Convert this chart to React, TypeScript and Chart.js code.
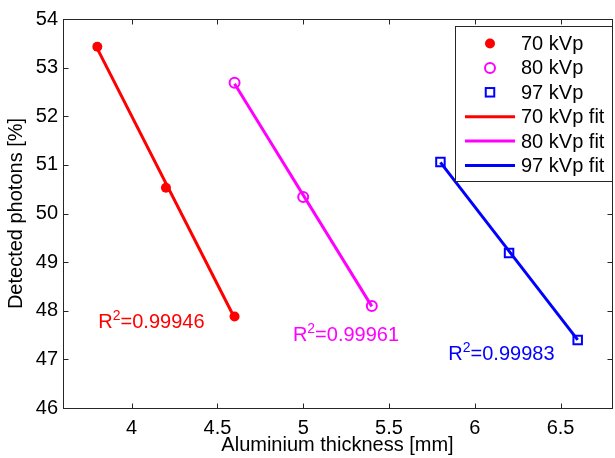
import React, { useEffect, useRef } from "react";
import { Chart, registerables } from "chart.js";

Chart.register(...registerables);

// ---- data ----
const X_70 = [3.8, 4.2, 4.6];
const Y_70 = [53.43, 50.53, 47.88];
const X_80 = [4.6, 5.0, 5.4];
const Y_80 = [52.69, 50.34, 48.1];
const X_97 = [5.8, 6.2, 6.6];
const Y_97 = [51.06, 49.19, 47.4];

const FIT_X_70 = [3.8, 4.6];
const FIT_Y_70 = [53.39, 47.85];
const FIT_X_80 = [4.6, 5.4];
const FIT_Y_80 = [52.67, 48.09];
const FIT_X_97 = [5.8, 6.6];
const FIT_Y_97 = [51.05, 47.4];

const SERIES_LABELS = ["70 kVp", "80 kVp", "97 kVp", "70 kVp fit", "80 kVp fit", "97 kVp fit"];

const R2_TEXT = ["0.99946", "0.99961", "0.99983"];
const R2_X = [3.806, 4.94, 5.846];
const R2_Y = [47.64, 47.38, 46.99];

const X_TICKS = [4, 4.5, 5, 5.5, 6, 6.5];
const Y_TICKS = [46, 47, 48, 49, 50, 51, 52, 53, 54];
const X_RANGE = [3.6, 6.8];
const Y_RANGE = [46, 54];

const X_TITLE = "Aluminium thickness [mm]";
const Y_TITLE = "Detected photons [%]";

// ---- styles ----
const FONT = '"Liberation Sans", Arial, Helvetica, sans-serif';
const RED = "#ff0000";
const MAGENTA = "#ff00ff";
const BLUE = "#0000ff";
const AXIS = "#262626";
const COLORS = [RED, MAGENTA, BLUE];

const pts = (xs: number[], ys: number[]) => xs.map((x, i) => ({ x, y: ys[i] }));

function drawMarker(ctx: CanvasRenderingContext2D, kind: number, x: number, y: number) {
  ctx.save();
  if (kind === 0) {
    ctx.fillStyle = RED;
    ctx.beginPath();
    ctx.arc(x, y, 5, 0, Math.PI * 2);
    ctx.fill();
  } else if (kind === 1) {
    ctx.strokeStyle = MAGENTA;
    ctx.lineWidth = 2;
    ctx.beginPath();
    ctx.arc(x, y, 5, 0, Math.PI * 2);
    ctx.stroke();
  } else {
    ctx.strokeStyle = BLUE;
    ctx.lineWidth = 2;
    ctx.strokeRect(x - 4.25, y - 4.25, 8.5, 8.5);
  }
  ctx.restore();
}

const framePlugin = {
  id: "matlabFrame",
  afterDraw(chart: any) {
    const { ctx, chartArea: a, scales } = chart;
    const xs = scales.x;
    const ys = scales.y;
    ctx.save();
    // box
    ctx.strokeStyle = AXIS;
    ctx.lineWidth = 1;
    const L = Math.round(a.left) + 0.5;
    const R = Math.round(a.right) + 0.5;
    const T = Math.round(a.top) + 0.5;
    const B = Math.round(a.bottom) + 0.5;
    ctx.strokeRect(L, T, R - L, B - T);
    // inward ticks on all four sides
    const TL = 5;
    ctx.beginPath();
    X_TICKS.forEach((v) => {
      const px = Math.round(xs.getPixelForValue(v)) + 0.5;
      ctx.moveTo(px, B);
      ctx.lineTo(px, B - TL);
      ctx.moveTo(px, T);
      ctx.lineTo(px, T + TL);
    });
    Y_TICKS.forEach((v) => {
      const py = Math.round(ys.getPixelForValue(v)) + 0.5;
      ctx.moveTo(L, py);
      ctx.lineTo(L + TL, py);
      ctx.moveTo(R, py);
      ctx.lineTo(R - TL, py);
    });
    ctx.stroke();

    // R^2 annotations
    ctx.textAlign = "left";
    ctx.textBaseline = "alphabetic";
    R2_TEXT.forEach((t, i) => {
      const x = xs.getPixelForValue(R2_X[i]);
      const y = ys.getPixelForValue(R2_Y[i]);
      ctx.fillStyle = COLORS[i];
      ctx.font = `20px ${FONT}`;
      ctx.fillText("R", x, y);
      let w = ctx.measureText("R").width;
      ctx.font = `14px ${FONT}`;
      ctx.fillText("2", x + w, y - 8);
      w += ctx.measureText("2").width;
      ctx.font = `20px ${FONT}`;
      ctx.fillText("=" + t, x + w, y);
    });

    // legend box
    const lx = 455.5, ly = 26.5, lw = 157, lh = 155;
    ctx.fillStyle = "#ffffff";
    ctx.fillRect(lx, ly, lw, lh);
    ctx.strokeStyle = AXIS;
    ctx.strokeRect(lx, ly, lw, lh);
    const rowY0 = 43.5;
    const rowStep = 24.4;
    ctx.font = `20px ${FONT}`;
    ctx.textBaseline = "middle";
    SERIES_LABELS.forEach((label, i) => {
      const y = rowY0 + i * rowStep;
      if (i < 3) {
        drawMarker(ctx, i, 490, y);
      } else {
        ctx.strokeStyle = COLORS[i - 3];
        ctx.lineWidth = 3;
        ctx.beginPath();
        ctx.moveTo(465, y);
        ctx.lineTo(515, y);
        ctx.stroke();
      }
      ctx.fillStyle = "#000000";
      ctx.fillText(label, 521, y + 1);
    });
    ctx.restore();
  },
};

export default function App() {
  const ref = useRef<HTMLCanvasElement | null>(null);

  useEffect(() => {
    if (!ref.current) return;
    const tickFont = { family: FONT, size: 20 };
    const chart = new Chart(ref.current, {
      type: "scatter",
      data: {
        datasets: [
          {
            label: SERIES_LABELS[0],
            data: pts(X_70, Y_70),
            showLine: false,
            pointStyle: "circle",
            pointRadius: 5,
            pointHoverRadius: 5,
            backgroundColor: RED,
            borderColor: RED,
            borderWidth: 0,
          },
          {
            label: SERIES_LABELS[1],
            data: pts(X_80, Y_80),
            showLine: false,
            pointStyle: "circle",
            pointRadius: 5,
            pointHoverRadius: 5,
            backgroundColor: "rgba(0,0,0,0)",
            borderColor: MAGENTA,
            borderWidth: 2,
          },
          {
            label: SERIES_LABELS[2],
            data: pts(X_97, Y_97),
            showLine: false,
            pointStyle: "rect",
            pointRadius: 6,
            pointHoverRadius: 6,
            backgroundColor: "rgba(0,0,0,0)",
            borderColor: BLUE,
            borderWidth: 2,
          },
          {
            label: SERIES_LABELS[3],
            data: pts(FIT_X_70, FIT_Y_70),
            showLine: true,
            pointRadius: 0,
            borderColor: RED,
            borderWidth: 3,
          },
          {
            label: SERIES_LABELS[4],
            data: pts(FIT_X_80, FIT_Y_80),
            showLine: true,
            pointRadius: 0,
            borderColor: MAGENTA,
            borderWidth: 3,
          },
          {
            label: SERIES_LABELS[5],
            data: pts(FIT_X_97, FIT_Y_97),
            showLine: true,
            pointRadius: 0,
            borderColor: BLUE,
            borderWidth: 3,
          },
        ],
      },
      options: {
        animation: false,
        responsive: false,
        devicePixelRatio: 1,
        events: [],
        layout: { padding: { top: 19, right: 2, left: 0, bottom: 0 } },
        plugins: { legend: { display: false }, tooltip: { enabled: false } },
        scales: {
          x: {
            type: "linear",
            min: X_RANGE[0],
            max: X_RANGE[1],
            afterBuildTicks: (s: any) => {
              s.ticks = X_TICKS.map((v) => ({ value: v }));
            },
            afterFit: (s: any) => {
              s.height = 50;
            },
            grid: { display: false, drawTicks: false },
            border: { display: false },
            ticks: {
              font: tickFont,
              color: "#000",
              padding: 8,
              maxRotation: 0,
              callback: (v: any) => String(v),
            },
            title: {
              display: true,
              text: X_TITLE,
              font: tickFont,
              color: "#000",
              padding: { top: 0, bottom: 1 },
            },
          },
          y: {
            type: "linear",
            min: Y_RANGE[0],
            max: Y_RANGE[1],
            afterBuildTicks: (s: any) => {
              s.ticks = Y_TICKS.map((v) => ({ value: v }));
            },
            afterFit: (s: any) => {
              s.width = 63;
            },
            grid: { display: false, drawTicks: false },
            border: { display: false },
            ticks: { font: tickFont, color: "#000", padding: 5, callback: (v: any) => String(v) },
            title: {
              display: true,
              text: Y_TITLE,
              font: tickFont,
              color: "#000",
              padding: { top: 4, bottom: 0 },
            },
          },
        },
      },
      plugins: [framePlugin],
    } as any);
    return () => chart.destroy();
  }, []);

  return (
    <div
      style={{
        position: "fixed",
        left: 0,
        top: 0,
        width: 615,
        height: 458,
        overflow: "hidden",
        background: "#fff",
      }}
    >
      <canvas ref={ref} width={620} height={458} style={{ display: "block", width: 620, height: 458 }} />
    </div>
  );
}
